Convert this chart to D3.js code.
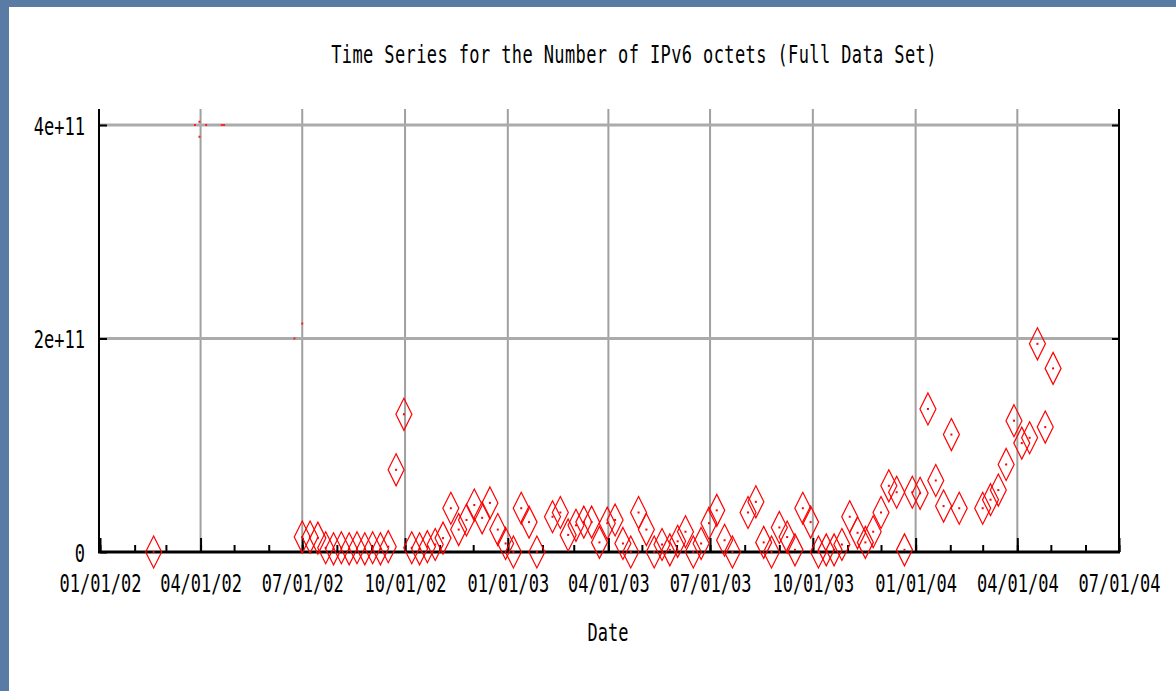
<!DOCTYPE html>
<html>
<head>
<meta charset="utf-8">
<script src="https://cdn.jsdelivr.net/npm/d3@7"></script>
<style>
  html, body { margin: 0; padding: 0; background: #5a7ca4; }
  svg { display: block; }
  text { font-family: "DejaVu Sans Mono", monospace; font-size: 17px; fill: #000; }
</style>
</head>
<body>
<svg id="chart" width="1176" height="691"></svg>
<script>
// weekly samples starting 2002-07-01, values in units of 1e9 octets (null = no sample)
const weekStart = "2002-07-01";
const weeklyOctets = [
  14, 14, 13, 4, 3, 4, 3, 4, 3, 4, 3, 5, 77, 129, 4, 3, 5, 7, 13, 41,
  21, 30, 44, 32, 46, 21, 8, 0, 41, 28, 0, null, 33, 37, 16, 25, 28, 28, 9, 27,
  30, 8, 0, 37, 21, 0, 7, 2, 10, 19, 0, 8, 27, 39, 11, 0, null, 37, 47, 9,
  0, 23, 14, 2, 41, 28, 0, 2, 2, 7, 33, 18, 9, 19, 37, 62, 56, 2, 56, 55,
  134, 67, 43, 110, 41, null, null, 41, 49, 58, 82, 123, 102, 107, 195, 117, 172
];
const earlyDates = ["2002-02-18"];
const earlyOctets = [0];
// tiny stray red specks seen near the gridlines
const strayMarks = [
  ["2002-03-27", 400], ["2002-03-31", 403], ["2002-04-06", 400], ["2002-03-31", 389],
  ["2002-04-20", 400], ["2002-04-22", 400], ["2002-06-24", 200], ["2002-07-01", 214]
];
const yTicks = [0, 2e11, 4e11];
const yTickLabels = ["0", "2e+11", "4e+11"];
const xDomain = ["2002-01-01", "2004-07-01"];

const title = "Time Series for the Number of IPv6 octets (Full Data Set)";
const xTitle = "Date";

const parse = d3.timeParse("%Y-%m-%d");
const SY = 1.45; // vertical stretch of the bitmap-like font

const svg = d3.select("#chart");
svg.append("rect").attr("x", 9).attr("y", 7).attr("width", 1167).attr("height", 684).attr("fill", "#fff");

const plotLeft = 100, plotRight = 1119, plotTop = 109, plotBottom = 552;
const x = d3.scaleTime().domain(xDomain.map(parse)).range([plotLeft, plotRight]);
const y = d3.scaleLinear().domain([0, 4e11]).range([plotBottom, 125]);

const points = [];
earlyDates.forEach((d, i) => points.push({ date: parse(d), value: earlyOctets[i] * 1e9 }));
weeklyOctets.forEach((v, i) => {
  if (v !== null) points.push({ date: d3.timeDay.offset(parse(weekStart), i * 7), value: v * 1e9 });
});

const quarters = d3.timeMonth.every(3).range(x.domain()[0], d3.timeDay.offset(x.domain()[1], 1));
const months = d3.timeMonth.range(x.domain()[0], d3.timeDay.offset(x.domain()[1], 1));

// gridlines
svg.append("g").selectAll("line")
  .data(quarters.slice(1, -1))
  .join("line")
  .attr("x1", (d) => x(d)).attr("x2", (d) => x(d))
  .attr("y1", plotTop).attr("y2", plotBottom)
  .attr("stroke", "#a0a0a0").attr("stroke-width", 2);

svg.append("g").selectAll("line")
  .data(yTicks.slice(1))
  .join("line")
  .attr("x1", plotLeft).attr("x2", plotRight)
  .attr("y1", (d) => y(d)).attr("y2", (d) => y(d))
  .attr("stroke", "#ababab").attr("stroke-width", 3);

// frame
svg.append("line").attr("x1", plotLeft - 1).attr("x2", plotLeft - 1).attr("y1", plotTop).attr("y2", plotBottom + 1)
  .attr("stroke", "#000").attr("stroke-width", 2);
svg.append("line").attr("x1", plotRight).attr("x2", plotRight).attr("y1", plotTop).attr("y2", plotBottom + 1)
  .attr("stroke", "#000").attr("stroke-width", 2);

// bottom axis: minor monthly ticks, major quarterly ticks with labels
const minorAxis = svg.append("g").attr("transform", `translate(0,${plotBottom})`)
  .call(d3.axisBottom(x).tickValues(months).tickSize(-7).tickFormat(""));
minorAxis.select(".domain").remove();
minorAxis.selectAll(".tick line").attr("stroke", "#000").attr("stroke-width", 2);

const majorAxis = svg.append("g").attr("transform", `translate(0,${plotBottom})`)
  .call(d3.axisBottom(x).tickValues(quarters).tickSize(-14).tickFormat(d3.timeFormat("%m/%d/%y")));
majorAxis.select(".domain").remove();
majorAxis.selectAll(".tick line").attr("stroke", "#000").attr("stroke-width", 2);
majorAxis.selectAll(".tick text")
  .attr("font-family", null).attr("font-size", null)
  .attr("dy", null)
  .attr("y", 40 / SY)
  .attr("transform", `scale(1,${SY})`);

svg.append("line").attr("x1", plotLeft - 2).attr("x2", plotRight + 1).attr("y1", plotBottom).attr("y2", plotBottom)
  .attr("stroke", "#000").attr("stroke-width", 3);

// left axis
const yAxis = svg.append("g").attr("transform", `translate(${plotLeft},0)`)
  .call(d3.axisLeft(y).tickValues(yTicks).tickSize(-7).tickPadding(15)
    .tickFormat((d, i) => yTickLabels[i]));
yAxis.select(".domain").remove();
yAxis.selectAll(".tick line").attr("stroke", "#000").attr("stroke-width", 2);
yAxis.selectAll(".tick text")
  .attr("font-family", null).attr("font-size", null)
  .attr("dy", null)
  .attr("y", 9 / SY)
  .attr("transform", `scale(1,${SY})`);

// right axis ticks
const yAxisR = svg.append("g").attr("transform", `translate(${plotRight},0)`)
  .call(d3.axisRight(y).tickValues(yTicks.slice(1)).tickSize(-7).tickFormat(""));
yAxisR.select(".domain").remove();
yAxisR.selectAll(".tick line").attr("stroke", "#000").attr("stroke-width", 2);

// stray specks
svg.append("g").selectAll("rect")
  .data(strayMarks)
  .join("rect")
  .attr("x", (d) => x(parse(d[0])) - 1)
  .attr("y", (d) => y(d[1] * 1e9) - 1)
  .attr("width", 2).attr("height", 2)
  .attr("fill", "#ff2020");

// diamonds
const marks = svg.append("g");
marks.selectAll("path")
  .data(points)
  .join("path")
  .attr("transform", (d) => `translate(${x(d.date)},${y(d.value)})`)
  .attr("d", "M0,-16L8,0L0,16L-8,0Z")
  .attr("fill", "none")
  .attr("stroke", "#ff0000")
  .attr("stroke-width", 1.2);
marks.selectAll("rect")
  .data(points)
  .join("rect")
  .attr("x", (d) => x(d.date) - 1)
  .attr("y", (d) => y(d.value) - 1)
  .attr("width", 2).attr("height", 2)
  .attr("fill", "#ff0000");

// titles
svg.append("text")
  .attr("transform", `translate(634,63) scale(1,${SY})`)
  .attr("text-anchor", "middle")
  .attr("letter-spacing", 0.4)
  .text(title);

svg.append("text")
  .attr("transform", `translate(608,641) scale(1,${SY})`)
  .attr("text-anchor", "middle")
  .text(xTitle);
</script>
</body>
</html>
